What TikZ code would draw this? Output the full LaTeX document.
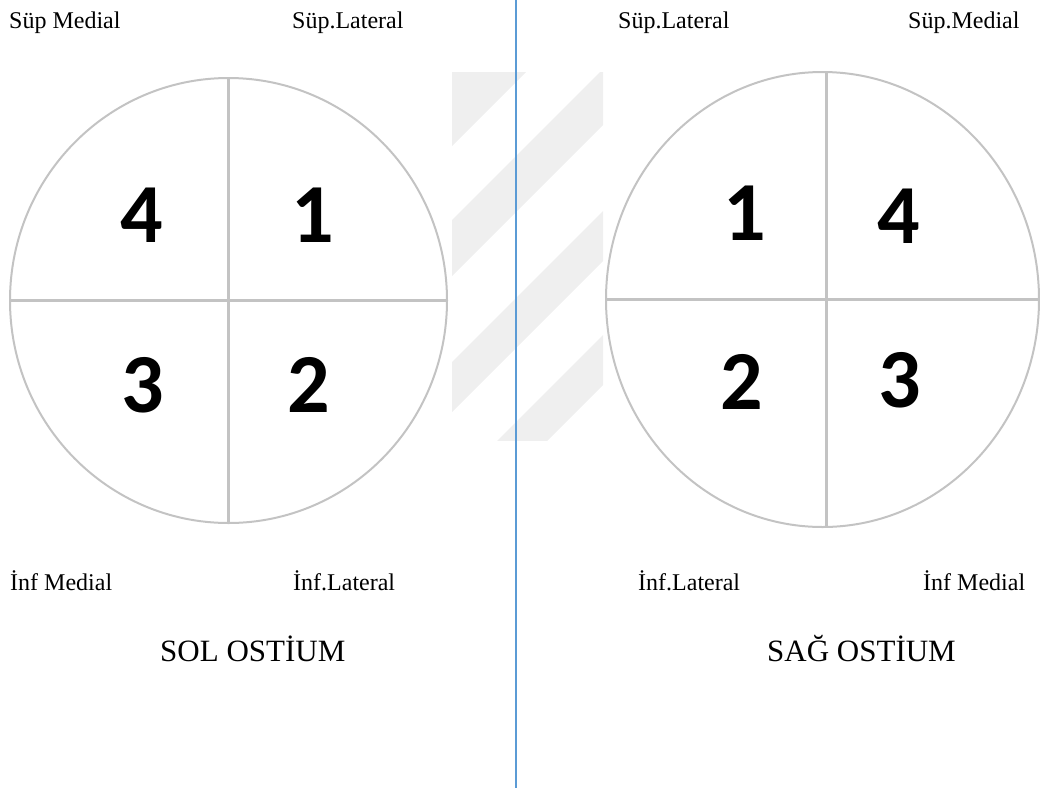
\documentclass[tikz,border=0pt]{standalone}
\usepackage{fontspec}
\setmainfont{Liberation Serif}
\newfontfamily\digitfont{Carlito}
\usetikzlibrary{shapes.geometric,positioning}

\definecolor{ringgray}{HTML}{C3C3C3}
\definecolor{markgray}{HTML}{EFEFEF}
\definecolor{splitblue}{HTML}{5B9BD5}

\begin{document}
\begin{tikzpicture}[
        x=1pt, y=-1pt,
        ring/.style={ellipse, draw=ringgray, line width=2pt, inner sep=0pt},
        cross/.style={draw=ringgray, line width=2.2pt},
        quad/.style={font=\digitfont\bfseries\fontsize{84}{84}\selectfont, inner sep=0pt},
        side/.style={font=\fontsize{24}{28}\selectfont, anchor=base west, inner sep=0pt},
        title/.style={font=\fontsize{31}{36}\selectfont, anchor=base west, inner sep=0pt},
        divider/.style={draw=splitblue, line width=1.3pt}
    ]

    \useasboundingbox (0,0) rectangle (1040,790);
    \clip (0,0) rectangle (1040,790);

    % Watermark stripes
    \begin{scope}
        \clip (452,72) rectangle (603,440);
        \foreach \a/\b in {0/598, 672/728, 814/864, 938/988}
            \fill[markgray] (\a,0) -- (\b,0) -- (\b-1000,1000) -- (\a-1000,1000) -- cycle;
    \end{scope}

    % Middle divider
    \coordinate (topcut) at (516,0);
    \coordinate (botcut) at (516,788);
    \draw[divider] (topcut) -- (botcut);

    % Left ostium
    \node[ring, minimum width=437pt, minimum height=445pt] (lring) at (228.5,300.5) {};
    \draw[cross] (lring.north) -- (lring.south);
    \draw[cross] (lring.west) -- (lring.east);

    \node[quad] (lq4) at (142,215) {4};
    \node[quad] (lq1) at (313,215) {1};
    \node[quad] (lq3) at (143,385) {3};
    \node[quad] (lq2) at (309,385) {2};

    \node[side] (lsupmed) at (9,28.5) {Süp Medial};
    \node[side] (lsuplat) at (292,28.5) {Süp.Lateral};
    \node[side] (linfmed) at (10,590.5) {İnf Medial};
    \node[side] (linflat) at (293,590.5) {İnf.Lateral};
    \node[title] (ltitle) at (160,661) {SOL OSTİUM};

    % Right ostium
    \node[ring, minimum width=433pt, minimum height=455pt] (rring) at (822.5,299.5) {};
    \draw[cross] ([xshift=4pt]rring.north) -- ([xshift=4pt]rring.south);
    \draw[cross] (rring.west) -- (rring.east);

    \node[quad] (rq1) at (745,213) {1};
    \node[quad] (rq4) at (899,216) {4};
    \node[quad] (rq2) at (742,382) {2};
    \node[quad] (rq3) at (900,380) {3};

    \node[side] (rsuplat) at (618,28.5) {Süp.Lateral};
    \node[side] (rsupmed) at (908,28.5) {Süp.Medial};
    \node[side] (rinflat) at (638,590.5) {İnf.Lateral};
    \node[side] (rinfmed) at (923,590.5) {İnf Medial};
    \node[title] (rtitle) at (767,661) {SAĞ OSTİUM};

\end{tikzpicture}
\end{document}
